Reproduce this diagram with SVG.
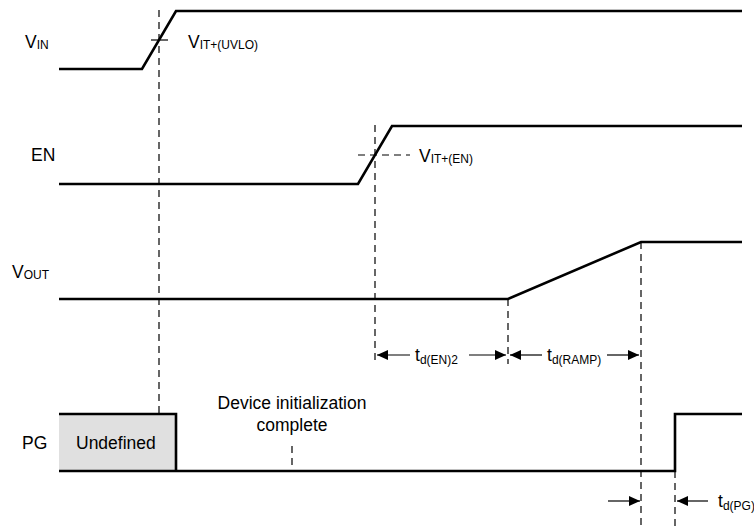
<svg xmlns="http://www.w3.org/2000/svg" width="754" height="526" viewBox="0 0 754 526">
<defs>
<style>
.sig{fill:none;stroke:#000;stroke-width:2.6;stroke-linejoin:miter}
.dash{fill:none;stroke:#000;stroke-width:1.2;stroke-dasharray:7,5}
.thin{fill:none;stroke:#000;stroke-width:1.2}
text{font-family:"Liberation Sans",Arial,sans-serif;font-size:17.5px;fill:#000}
.sub{font-size:12px}
</style>
<marker id="ah" viewBox="0 0 11 10" refX="11" refY="5" markerWidth="11" markerHeight="10" markerUnits="userSpaceOnUse" orient="auto">
<path d="M0,0 L11,5 L0,10 Z" fill="#000"/>
</marker>
</defs>
<rect width="754" height="526" fill="#fff"/>
<g id="connectors">
<line class="dash" x1="159" y1="10" x2="159" y2="414"/>
<line class="thin" x1="151" y1="40" x2="168" y2="40"/>
<line class="dash" x1="375" y1="125" x2="375" y2="364"/>
<line class="dash" x1="358" y1="155" x2="410" y2="155"/>
<line class="dash" x1="508" y1="299" x2="508" y2="364"/>
<line class="dash" x1="641" y1="242" x2="641" y2="526"/>
<line class="dash" x1="675" y1="471" x2="675" y2="526"/>
<line class="dash" x1="292" y1="446" x2="292" y2="471"/>
<line class="thin" x1="410" y1="355" x2="377" y2="355" marker-end="url(#ah)"/>
<line class="thin" x1="469" y1="355" x2="506" y2="355" marker-end="url(#ah)"/>
<line class="thin" x1="542" y1="355" x2="510" y2="355" marker-end="url(#ah)"/>
<line class="thin" x1="607" y1="355" x2="639" y2="355" marker-end="url(#ah)"/>
<line class="thin" x1="608" y1="501" x2="640" y2="501" marker-end="url(#ah)"/>
<line class="thin" x1="708" y1="501" x2="677" y2="501" marker-end="url(#ah)"/>
</g>
<g id="vin">
<text x="25" y="48">V<tspan class="sub" dy="1">IN</tspan></text>
<polyline class="sig" points="59,69 142,69 176,11 742,11"/>
<text x="188" y="48">V<tspan class="sub" dy="1">IT+(UVLO)</tspan></text>
</g>
<g id="en">
<text x="31" y="161">EN</text>
<polyline class="sig" points="59,184 358,184 392,126 742,126"/>
<text x="419" y="162">V<tspan class="sub" dy="1">IT+(EN)</tspan></text>
</g>
<g id="vout">
<text x="12" y="278">V<tspan class="sub" dy="1">OUT</tspan></text>
<polyline class="sig" points="59,299 508,299 641,242 742,242"/>
</g>
<g id="td_en2"><text x="415" y="361">t<tspan class="sub" dy="3">d(EN)2</tspan></text></g>
<g id="td_ramp"><text x="547" y="361">t<tspan class="sub" dy="3">d(RAMP)</tspan></text></g>
<g id="pg">
<text x="22" y="449">PG</text>
<rect x="59" y="414" width="117" height="57" fill="#e0e0e0"/>
<polyline class="sig" points="59,414 176,414 176,471"/>
<polyline class="sig" points="59,471 675,471 675,414 742,414"/>
<text x="76" y="449">Undefined</text>
</g>
<g id="init">
<text x="292" y="409" text-anchor="middle">Device initialization</text>
<text x="292" y="431" text-anchor="middle">complete</text>
</g>
<g id="td_pg"><text x="718" y="507">t<tspan class="sub" dy="3">d(PG)</tspan></text></g>
</svg>
